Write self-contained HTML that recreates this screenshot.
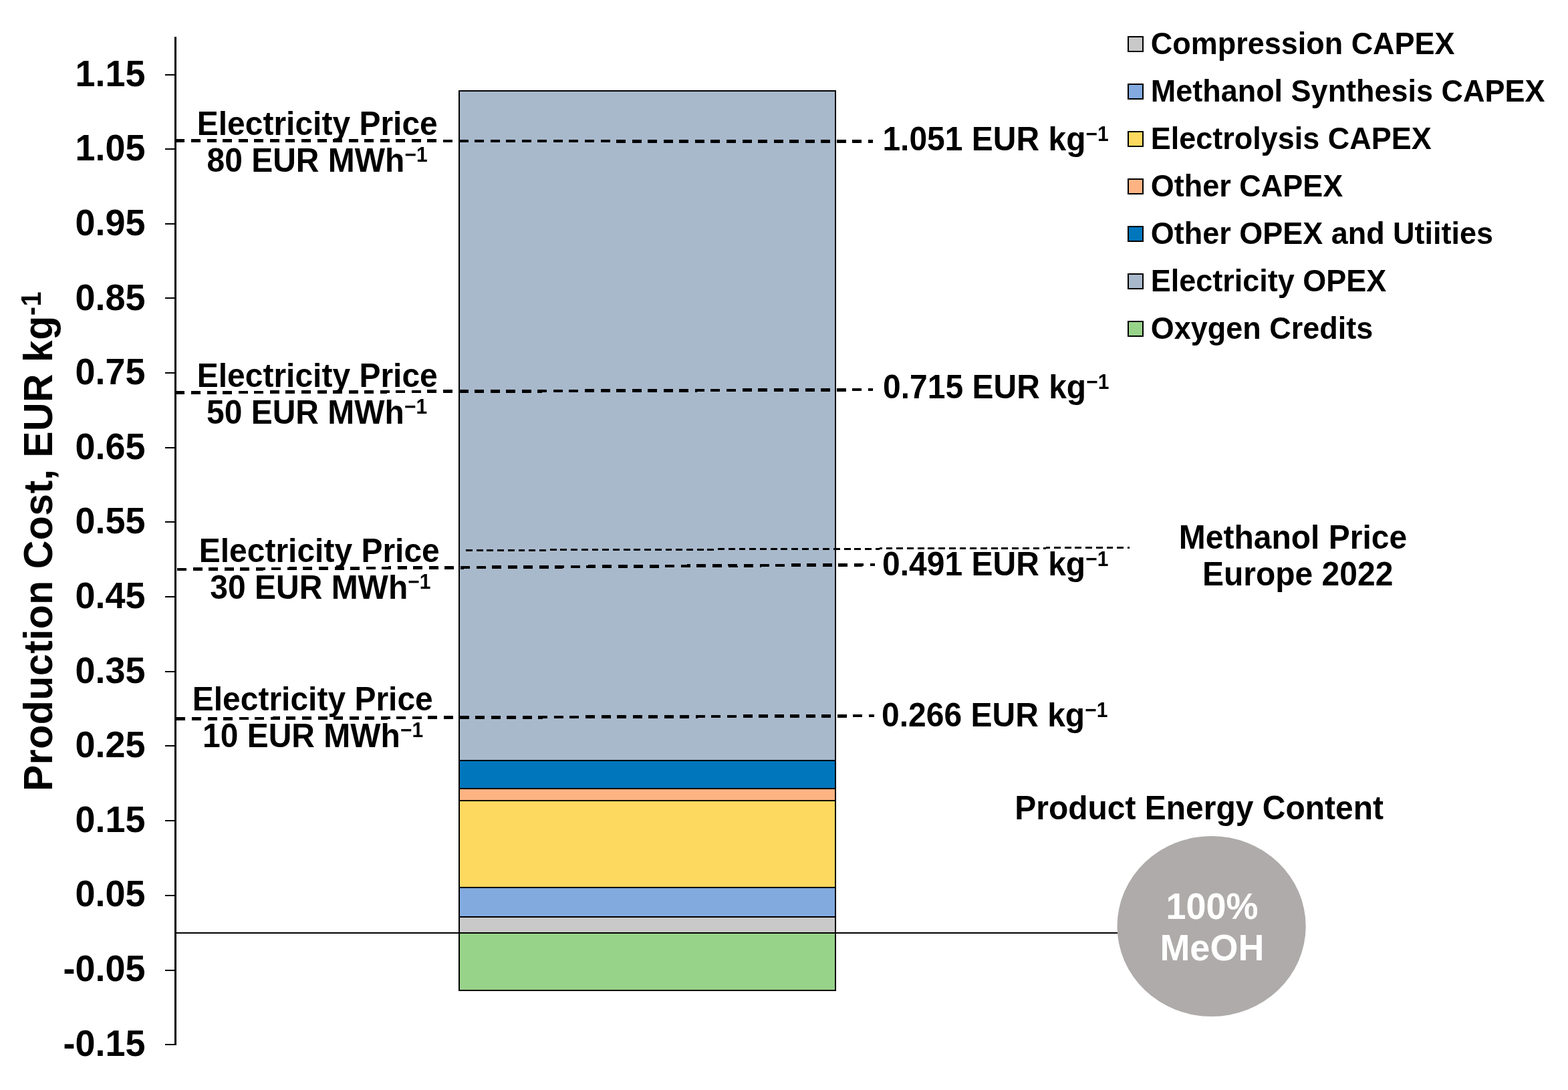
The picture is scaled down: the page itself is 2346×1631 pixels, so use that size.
<!DOCTYPE html>
<html><head><meta charset="utf-8"><title>Production Cost</title>
<style>html,body{margin:0;padding:0;background:#fff;overflow:hidden;}svg{display:block;}</style>
</head><body>
<svg width="2346" height="1631" viewBox="0 0 2346 1631" font-family="'Liberation Sans', sans-serif" font-weight="bold" shape-rendering="crispEdges">
<rect x="0" y="0" width="2346" height="1631" fill="#ffffff"/>
<rect x="263" y="1395" width="1410" height="2" fill="#000"/>
<rect x="687" y="136" width="563" height="1002" fill="#A9B9CC" stroke="#000" stroke-width="2"/>
<rect x="687" y="1138" width="563" height="42" fill="#0076BD" stroke="#000" stroke-width="2"/>
<rect x="687" y="1180" width="563" height="18" fill="#FEB383" stroke="#000" stroke-width="2"/>
<rect x="687" y="1198" width="563" height="130" fill="#FED95F" stroke="#000" stroke-width="2"/>
<rect x="687" y="1328" width="563" height="44" fill="#82AADF" stroke="#000" stroke-width="2"/>
<rect x="687" y="1372" width="563" height="24" fill="#C9C9C9" stroke="#000" stroke-width="2"/>
<rect x="687" y="1396" width="563" height="86" fill="#98D38A" stroke="#000" stroke-width="2"/>
<rect x="261" y="55" width="3" height="1509" fill="#000"/>
<rect x="247" y="111" width="15" height="2" fill="#000"/>
<text transform="translate(217.5,128.8) scale(1,1.0407)" font-size="54" text-anchor="end">1.15</text>
<rect x="247" y="222" width="15" height="2" fill="#000"/>
<text transform="translate(217.5,240.4) scale(1,1.0407)" font-size="54" text-anchor="end">1.05</text>
<rect x="247" y="334" width="15" height="2" fill="#000"/>
<text transform="translate(217.5,352.0) scale(1,1.0407)" font-size="54" text-anchor="end">0.95</text>
<rect x="247" y="445" width="15" height="2" fill="#000"/>
<text transform="translate(217.5,463.6) scale(1,1.0407)" font-size="54" text-anchor="end">0.85</text>
<rect x="247" y="557" width="15" height="2" fill="#000"/>
<text transform="translate(217.5,575.2) scale(1,1.0407)" font-size="54" text-anchor="end">0.75</text>
<rect x="247" y="669" width="15" height="2" fill="#000"/>
<text transform="translate(217.5,686.8) scale(1,1.0407)" font-size="54" text-anchor="end">0.65</text>
<rect x="247" y="780" width="15" height="2" fill="#000"/>
<text transform="translate(217.5,798.4) scale(1,1.0407)" font-size="54" text-anchor="end">0.55</text>
<rect x="247" y="892" width="15" height="2" fill="#000"/>
<text transform="translate(217.5,910.0) scale(1,1.0407)" font-size="54" text-anchor="end">0.45</text>
<rect x="247" y="1004" width="15" height="2" fill="#000"/>
<text transform="translate(217.5,1021.6) scale(1,1.0407)" font-size="54" text-anchor="end">0.35</text>
<rect x="247" y="1115" width="15" height="2" fill="#000"/>
<text transform="translate(217.5,1133.2) scale(1,1.0407)" font-size="54" text-anchor="end">0.25</text>
<rect x="247" y="1227" width="15" height="2" fill="#000"/>
<text transform="translate(217.5,1244.8) scale(1,1.0407)" font-size="54" text-anchor="end">0.15</text>
<rect x="247" y="1339" width="15" height="2" fill="#000"/>
<text transform="translate(217.5,1356.4) scale(1,1.0407)" font-size="54" text-anchor="end">0.05</text>
<rect x="247" y="1451" width="15" height="2" fill="#000"/>
<text transform="translate(217.5,1468.0) scale(1,1.0407)" font-size="54" text-anchor="end">-0.05</text>
<rect x="247" y="1562" width="15" height="2" fill="#000"/>
<text transform="translate(217.5,1579.6) scale(1,1.0407)" font-size="54" text-anchor="end">-0.15</text>
<text transform="translate(78,1184) rotate(-90) scale(1,1.0407)" font-size="59" letter-spacing="0.45">Production Cost, EUR kg<tspan font-size="40" dy="-16.5">-1</tspan></text>
<line x1="262.5" y1="210.5" x2="1306" y2="211.5" stroke="#000" stroke-width="4.75" stroke-dasharray="14 9.558"/>
<line x1="262.5" y1="587.5" x2="1306" y2="583" stroke="#000" stroke-width="4.75" stroke-dasharray="14 9.558"/>
<line x1="265" y1="852" x2="1309" y2="845" stroke="#000" stroke-width="4.75" stroke-dasharray="14 9.558"/>
<line x1="263.5" y1="1075.5" x2="1308" y2="1071" stroke="#000" stroke-width="4.75" stroke-dasharray="14 9.558"/>
<line x1="697" y1="823.5" x2="1690" y2="819.5" stroke="#000" stroke-width="3" stroke-dasharray="9.9 5.814"/>
<text transform="translate(294.7,201.9) scale(1,1.0407)" font-size="48">Electricity Price</text><text transform="translate(309.5,256.6) scale(1,1.0407)" font-size="48">80 EUR MWh<tspan font-size="30" dy="-14">−</tspan><tspan font-size="30">1</tspan></text>
<text transform="translate(294.7,579.1) scale(1,1.0407)" font-size="48">Electricity Price</text><text transform="translate(309,634) scale(1,1.0407)" font-size="48">50 EUR MWh<tspan font-size="30" dy="-14">−</tspan><tspan font-size="30">1</tspan></text>
<text transform="translate(297.7,841) scale(1,1.0407)" font-size="48">Electricity Price</text><text transform="translate(314.3,895.7) scale(1,1.0407)" font-size="48">30 EUR MWh<tspan font-size="30" dy="-14">−</tspan><tspan font-size="30">1</tspan></text>
<text transform="translate(287.7,1062.8) scale(1,1.0407)" font-size="48">Electricity Price</text><text transform="translate(303,1117.7) scale(1,1.0407)" font-size="48">10 EUR MWh<tspan font-size="30" dy="-14">−</tspan><tspan font-size="30">1</tspan></text>
<text transform="translate(1320.4,225) scale(1,1.0407)" font-size="48">1.051 EUR kg<tspan font-size="30" dy="-13">−</tspan><tspan font-size="30">1</tspan></text>
<text transform="translate(1321.1,596) scale(1,1.0407)" font-size="48">0.715 EUR kg<tspan font-size="30" dy="-13">−</tspan><tspan font-size="30">1</tspan></text>
<text transform="translate(1320.1,860.6) scale(1,1.0407)" font-size="48">0.491 EUR kg<tspan font-size="30" dy="-13">−</tspan><tspan font-size="30">1</tspan></text>
<text transform="translate(1319.1,1087) scale(1,1.0407)" font-size="48">0.266 EUR kg<tspan font-size="30" dy="-13">−</tspan><tspan font-size="30">1</tspan></text>
<rect x="1688" y="55" width="22" height="22" fill="#C9C9C9" stroke="#000" stroke-width="2"/>
<text transform="translate(1721.7,80.5) scale(1,1.0407)" font-size="45">Compression CAPEX</text>
<rect x="1688" y="126" width="22" height="22" fill="#82AADF" stroke="#000" stroke-width="2"/>
<text transform="translate(1721.7,151.5) scale(1,1.0407)" font-size="45">Methanol Synthesis CAPEX</text>
<rect x="1688" y="197" width="22" height="22" fill="#FED95F" stroke="#000" stroke-width="2"/>
<text transform="translate(1721.7,222.5) scale(1,1.0407)" font-size="45">Electrolysis CAPEX</text>
<rect x="1688" y="268" width="22" height="22" fill="#FEB383" stroke="#000" stroke-width="2"/>
<text transform="translate(1721.7,293.5) scale(1,1.0407)" font-size="45">Other CAPEX</text>
<rect x="1688" y="339" width="22" height="22" fill="#0076BD" stroke="#000" stroke-width="2"/>
<text transform="translate(1721.7,364.5) scale(1,1.0407)" font-size="45">Other OPEX and Utiities</text>
<rect x="1688" y="410" width="22" height="22" fill="#A9B9CC" stroke="#000" stroke-width="2"/>
<text transform="translate(1721.7,435.5) scale(1,1.0407)" font-size="45">Electricity OPEX</text>
<rect x="1688" y="481" width="22" height="22" fill="#98D38A" stroke="#000" stroke-width="2"/>
<text transform="translate(1721.7,506.5) scale(1,1.0407)" font-size="45">Oxygen Credits</text>
<text transform="translate(1763.8,820.9) scale(1,1.0407)" font-size="48">Methanol Price</text>
<text transform="translate(1799,875.7) scale(1,1.0407)" font-size="48">Europe 2022</text>
<text transform="translate(1518.2,1226.2) scale(1,1.0407)" font-size="48">Product Energy Content</text>
<ellipse cx="1812.6" cy="1386" rx="141.1" ry="135" fill="#AEABAA" shape-rendering="geometricPrecision"/>
<text transform="translate(1744.4,1374.7) scale(1,1.0407)" font-size="54" fill="#fff">100%</text>
<text transform="translate(1735.4,1436.9) scale(1,1.0407)" font-size="54" fill="#fff">MeOH</text>
</svg>
</body></html>
